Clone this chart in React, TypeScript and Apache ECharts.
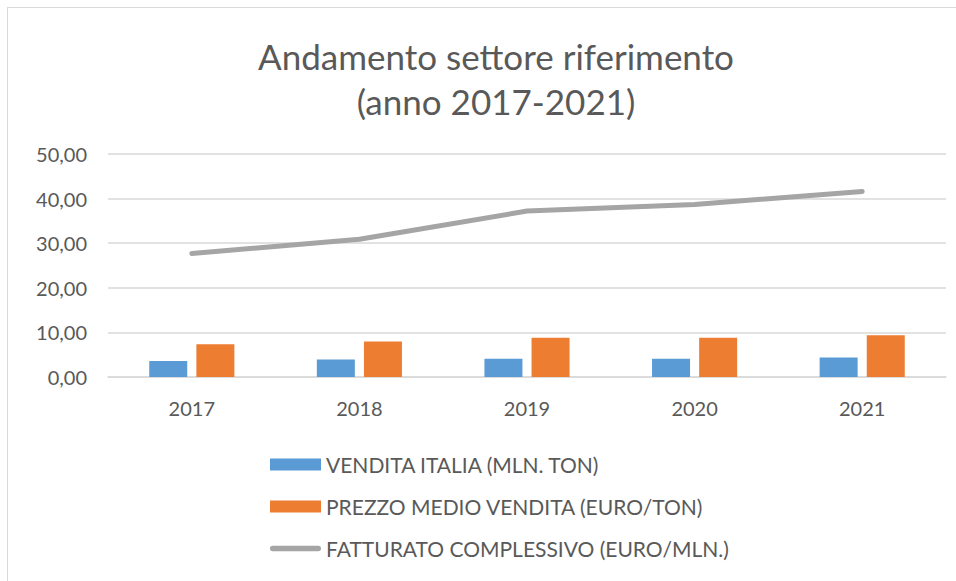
import React, { useEffect, useRef } from "react";
import * as echarts from "echarts";

const categories = ["2017", "2018", "2019", "2020", "2021"];
const venditaItalia = [3.6, 3.9, 4.1, 4.1, 4.4];
const prezzoMedio = [7.35, 7.95, 8.8, 8.8, 9.35];
const fatturato = [27.7, 30.9, 37.2, 38.7, 41.6];
const yTicks = { min: 0, max: 50, interval: 10 };

const FONT = "Lato, 'Open Sans', sans-serif";
const TXT = "#595959";

export default function App() {
  const ref = useRef<HTMLDivElement>(null);
  useEffect(() => {
    const chart = echarts.init(ref.current!, undefined, { renderer: "svg" });
    chart.setOption({
      animation: false,
      backgroundColor: "transparent",
      textStyle: { fontFamily: FONT },
      title: {
        text: "Andamento settore riferimento\n(anno 2017-2021)",
        left: 491,
        textAlign: "center",
        top: 28,
        textStyle: {
          fontFamily: FONT,
          fontSize: 35,
          fontWeight: "normal",
          color: TXT,
          lineHeight: 45,
        },
      },
      grid: { left: 108, right: 10, top: 154, bottom: 204, containLabel: false },
      xAxis: {
        type: "category",
        data: categories,
        axisLine: { lineStyle: { color: "#D9D9D9", width: 1.5 } },
        axisTick: { show: false },
        axisLabel: { color: TXT, fontSize: 20, margin: 21, fontFamily: FONT },
      },
      yAxis: {
        type: "value",
        min: yTicks.min,
        max: yTicks.max,
        interval: yTicks.interval,
        axisLine: { show: false },
        axisTick: { show: false },
        splitLine: { lineStyle: { color: "#D9D9D9", width: 1.5 } },
        axisLabel: {
          color: TXT,
          fontSize: 20,
          margin: 21,
          fontFamily: FONT,
          formatter: (v: number) => v.toFixed(2).replace(".", ","),
        },
      },
      legend: {
        orient: "vertical",
        left: 265,
        top: 449,
        itemWidth: 51,
        itemHeight: 12,
        itemGap: 21,
        textStyle: { color: TXT, fontSize: 21, fontFamily: FONT },
        data: [
          { name: "VENDITA ITALIA (MLN. TON)", icon: "rect" },
          { name: "PREZZO MEDIO VENDITA (EURO/TON)", icon: "rect" },
          {
            name: "FATTURATO COMPLESSIVO (EURO/MLN.)",
            icon: "path://M3,0 L53,0 A3,3 0 0 1 53,6 L3,6 A3,3 0 0 1 3,0 Z",
          },
        ],
      },
      series: [
        {
          name: "VENDITA ITALIA (MLN. TON)",
          type: "bar",
          data: venditaItalia,
          barWidth: 38,
          barGap: "24%",
          itemStyle: { color: "#5B9BD5" },
        },
        {
          name: "PREZZO MEDIO VENDITA (EURO/TON)",
          type: "bar",
          data: prezzoMedio,
          barWidth: 38,
          barGap: "24%",
          itemStyle: { color: "#ED7D31" },
        },
        {
          name: "FATTURATO COMPLESSIVO (EURO/MLN.)",
          type: "line",
          data: fatturato,
          symbol: "none",
          showSymbol: false,
          lineStyle: { color: "#A5A5A5", width: 5, cap: "round", join: "round" },
          itemStyle: { color: "#A5A5A5" },
        },
      ],
    });
    return () => chart.dispose();
  }, []);
  return (
    <div style={{ position: "fixed", left: 0, top: 0, width: 956, height: 581, background: "#fff" }}>
      <div
        style={{
          position: "absolute",
          left: 7,
          top: 7,
          width: 960,
          height: 600,
          border: "1.5px solid #D9D9D9",
          boxSizing: "border-box",
        }}
      />
      <div ref={ref} style={{ position: "absolute", left: 0, top: 0, width: 956, height: 581 }} />
    </div>
  );
}
